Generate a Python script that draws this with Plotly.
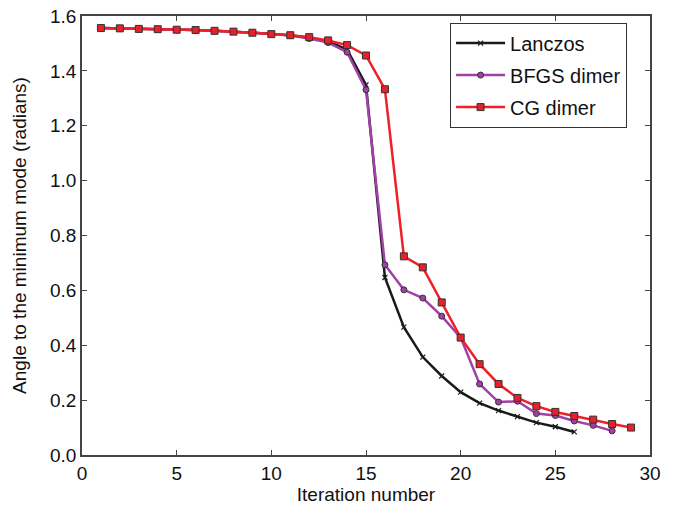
import plotly.graph_objects as go

iters_lanczos = list(range(1, 27))
lanczos = [1.556, 1.555, 1.553, 1.552, 1.550, 1.549, 1.546, 1.543, 1.539, 1.534,
           1.530, 1.521, 1.507, 1.478, 1.349, 0.647, 0.466, 0.357, 0.288, 0.229,
           0.189, 0.162, 0.140, 0.118, 0.103, 0.084]

iters_bfgs = list(range(1, 29))
bfgs = [1.556, 1.555, 1.553, 1.552, 1.550, 1.549, 1.546, 1.543, 1.539, 1.534,
        1.529, 1.518, 1.503, 1.468, 1.331, 0.693, 0.602, 0.572, 0.506, 0.428,
        0.259, 0.193, 0.196, 0.151, 0.144, 0.124, 0.108, 0.088]

iters_cg = list(range(1, 30))
cg = [1.556, 1.555, 1.553, 1.552, 1.550, 1.549, 1.546, 1.543, 1.539, 1.534,
      1.530, 1.523, 1.511, 1.494, 1.456, 1.333, 0.724, 0.684, 0.556, 0.428,
      0.331, 0.259, 0.208, 0.178, 0.157, 0.142, 0.129, 0.113, 0.100]

FONT = "Liberation Sans, Arial, Helvetica, sans-serif"

fig = go.Figure()
fig.add_trace(go.Scatter(
    x=iters_lanczos, y=lanczos, name="Lanczos", mode="lines+markers",
    line=dict(color="#1a1a1a", width=2.5),
    marker=dict(symbol="x-thin", size=5, line=dict(color="#1a1a1a", width=1.2)),
    legendgroup="a"))
fig.add_trace(go.Scatter(
    x=iters_bfgs, y=bfgs, name="BFGS dimer", mode="lines+markers",
    line=dict(color="#a040a8", width=2.5),
    marker=dict(symbol="circle", size=6, color="#a040a8",
                line=dict(color="#333333", width=1)),
    legendgroup="b"))
fig.add_trace(go.Scatter(
    x=iters_cg, y=cg, name="CG dimer", mode="lines+markers",
    line=dict(color="#ee2028", width=2.5),
    marker=dict(symbol="square", size=7, color="#e8202a",
                line=dict(color="#333333", width=1)),
    legendgroup="c"))

axis_common = dict(
    showline=True, linecolor="#444444", linewidth=1.5, mirror="ticks",
    ticks="inside", ticklen=5, tickcolor="#444444", tickwidth=1.2,
    showgrid=False, zeroline=False, automargin=False,
    tickfont=dict(family=FONT, size=19, color="#111111"),
)

fig.update_layout(
    width=679, height=509,
    margin=dict(l=82, r=29, t=16, b=54),
    paper_bgcolor="white", plot_bgcolor="white",
    font=dict(family=FONT, color="#111111"),
    xaxis=dict(range=[0, 30], dtick=5, tickmode="linear", tick0=0,
               title=dict(text="Iteration number", font=dict(size=19), standoff=4),
               **axis_common),
    yaxis=dict(range=[0, 1.6], dtick=0.2, tickmode="linear", tick0=0, tickformat=".1f",
               title=dict(text="Angle to the minimum mode (radians)", font=dict(size=19), standoff=18),
               **axis_common),
    legend=dict(x=0.648, y=0.985, xanchor="left", yanchor="top",
                bordercolor="#333333", borderwidth=1, bgcolor="white",
                font=dict(family=FONT, size=20), traceorder="grouped", tracegroupgap=3,
                itemwidth=49),
)

fig.write_html("out.html", config={"displayModeBar": False},
               post_script="document.body.style.margin='0';")
